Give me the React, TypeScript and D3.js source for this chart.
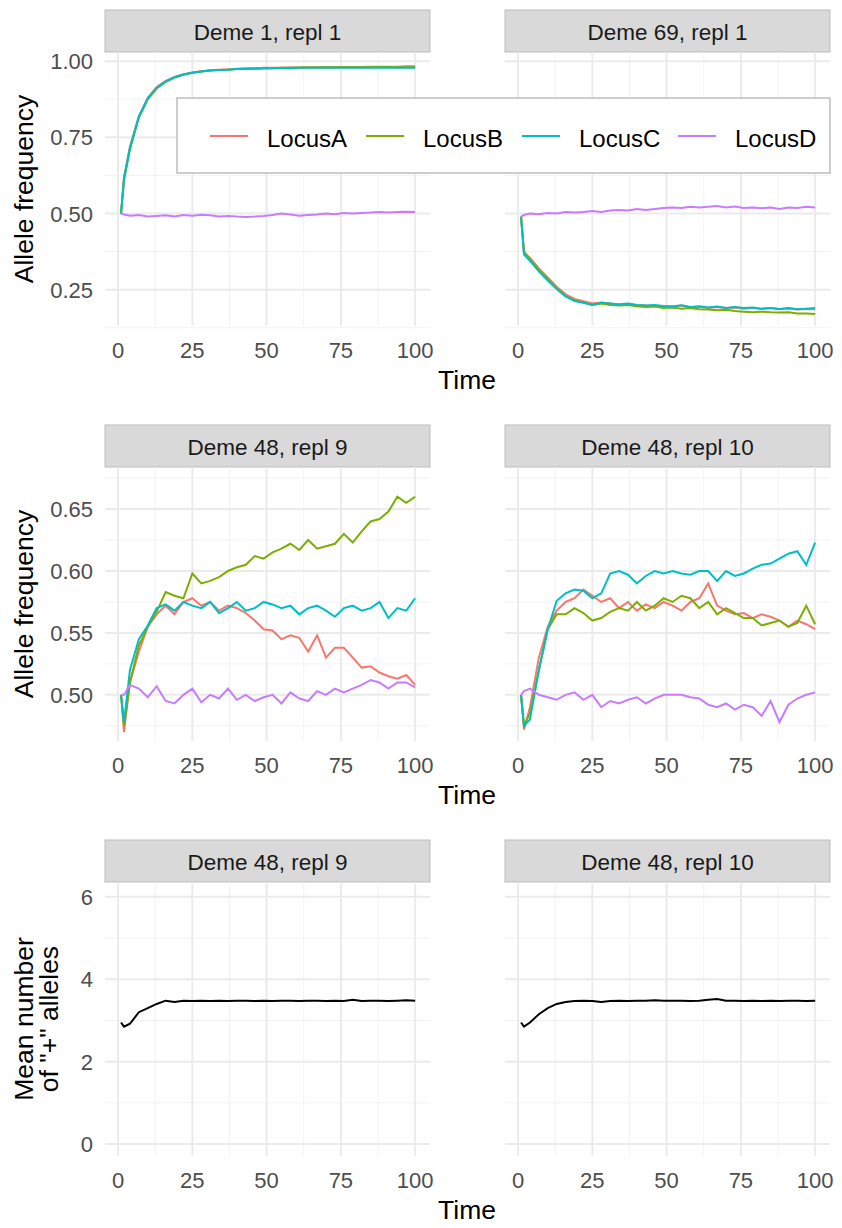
import React from "react";
import * as d3 from "d3";

const times = [1,2,4,7,10,13,16,19,22,25,28,31,34,37,40,43,46,49,52,55,58,61,64,67,70,73,76,79,82,85,88,91,94,97,100];
const loci = ["LocusA","LocusB","LocusC","LocusD"];
const colors = ["#F8766D","#7CAE00","#00BFC4","#C77CFF"];

const d1A = [0.50,0.62,0.72,0.82,0.88,0.915,0.935,0.948,0.957,0.963,0.967,0.970,0.972,0.973,0.975,0.976,0.977,0.978,0.978,0.978,0.979,0.979,0.98,0.98,0.98,0.98,0.981,0.981,0.981,0.982,0.982,0.982,0.982,0.983,0.983];
const d1B = [0.50,0.61,0.71,0.815,0.875,0.91,0.932,0.946,0.955,0.962,0.966,0.969,0.971,0.972,0.974,0.975,0.976,0.977,0.977,0.978,0.978,0.979,0.979,0.979,0.98,0.98,0.98,0.98,0.98,0.98,0.981,0.981,0.98,0.98,0.98];
const d1C = [0.50,0.615,0.715,0.818,0.878,0.912,0.933,0.947,0.956,0.962,0.966,0.969,0.971,0.972,0.974,0.975,0.975,0.976,0.977,0.977,0.977,0.978,0.978,0.978,0.978,0.978,0.978,0.978,0.978,0.978,0.978,0.978,0.978,0.978,0.978];
const d1D = [0.50,0.497,0.493,0.495,0.49,0.492,0.494,0.49,0.495,0.493,0.496,0.494,0.49,0.492,0.49,0.489,0.49,0.492,0.495,0.5,0.497,0.493,0.495,0.497,0.5,0.498,0.502,0.5,0.502,0.503,0.505,0.503,0.505,0.506,0.505];

const d2A = [0.49,0.37,0.355,0.32,0.29,0.26,0.235,0.22,0.212,0.205,0.208,0.205,0.2,0.203,0.2,0.198,0.197,0.196,0.195,0.198,0.192,0.194,0.19,0.193,0.19,0.192,0.188,0.19,0.187,0.19,0.186,0.188,0.185,0.187,0.186];
const d2B = [0.49,0.375,0.35,0.315,0.285,0.255,0.23,0.215,0.208,0.2,0.205,0.2,0.198,0.2,0.196,0.193,0.195,0.19,0.192,0.188,0.19,0.186,0.185,0.183,0.184,0.18,0.178,0.176,0.178,0.176,0.175,0.176,0.172,0.172,0.17];
const d2C = [0.49,0.365,0.345,0.31,0.28,0.252,0.228,0.213,0.207,0.2,0.207,0.205,0.202,0.205,0.2,0.198,0.2,0.197,0.195,0.199,0.193,0.196,0.192,0.195,0.19,0.193,0.19,0.192,0.188,0.19,0.187,0.19,0.186,0.188,0.19];
const d2D = [0.49,0.495,0.5,0.498,0.502,0.5,0.505,0.503,0.505,0.508,0.505,0.51,0.512,0.51,0.515,0.512,0.515,0.518,0.52,0.518,0.522,0.52,0.522,0.525,0.52,0.523,0.518,0.52,0.517,0.52,0.515,0.52,0.518,0.522,0.52];

const r9A = [0.50,0.470,0.51,0.535,0.555,0.565,0.572,0.565,0.575,0.578,0.572,0.575,0.568,0.572,0.570,0.566,0.560,0.553,0.552,0.545,0.548,0.546,0.535,0.548,0.530,0.538,0.538,0.530,0.522,0.523,0.518,0.515,0.513,0.516,0.508];
const r9B = [0.50,0.475,0.51,0.54,0.555,0.567,0.583,0.580,0.578,0.598,0.590,0.592,0.595,0.600,0.603,0.605,0.612,0.610,0.615,0.618,0.622,0.617,0.625,0.618,0.620,0.622,0.630,0.623,0.632,0.640,0.642,0.648,0.660,0.655,0.660];
const r9C = [0.50,0.478,0.52,0.545,0.556,0.570,0.573,0.568,0.575,0.572,0.570,0.575,0.566,0.570,0.575,0.568,0.570,0.575,0.573,0.570,0.572,0.565,0.570,0.572,0.568,0.563,0.570,0.572,0.568,0.570,0.575,0.562,0.570,0.568,0.578];
const r9D = [0.50,0.500,0.508,0.505,0.498,0.507,0.495,0.493,0.500,0.505,0.494,0.500,0.497,0.505,0.496,0.500,0.495,0.498,0.500,0.493,0.502,0.497,0.495,0.503,0.500,0.505,0.502,0.505,0.508,0.512,0.510,0.505,0.510,0.510,0.506];

const r10A = [0.50,0.472,0.49,0.53,0.555,0.568,0.575,0.578,0.585,0.580,0.575,0.578,0.570,0.575,0.568,0.573,0.570,0.575,0.572,0.568,0.575,0.578,0.590,0.572,0.568,0.565,0.566,0.562,0.565,0.563,0.560,0.555,0.560,0.557,0.553];
const r10B = [0.50,0.475,0.485,0.52,0.553,0.565,0.565,0.570,0.566,0.560,0.562,0.567,0.570,0.568,0.575,0.568,0.572,0.578,0.575,0.580,0.578,0.570,0.575,0.565,0.570,0.566,0.562,0.562,0.556,0.558,0.560,0.555,0.558,0.572,0.557];
const r10C = [0.50,0.475,0.48,0.52,0.553,0.576,0.582,0.585,0.584,0.578,0.582,0.598,0.600,0.597,0.590,0.596,0.600,0.598,0.600,0.598,0.597,0.600,0.600,0.592,0.600,0.596,0.598,0.602,0.605,0.606,0.610,0.614,0.616,0.605,0.623];
const r10D = [0.50,0.503,0.505,0.500,0.498,0.496,0.500,0.502,0.496,0.500,0.490,0.495,0.493,0.496,0.498,0.493,0.497,0.500,0.500,0.500,0.498,0.497,0.492,0.490,0.493,0.488,0.492,0.490,0.483,0.495,0.478,0.492,0.497,0.500,0.502];

const m9 = [2.95,2.85,2.92,3.2,3.3,3.4,3.48,3.45,3.48,3.47,3.48,3.47,3.48,3.47,3.48,3.48,3.47,3.48,3.47,3.48,3.48,3.47,3.48,3.48,3.47,3.48,3.47,3.5,3.47,3.48,3.48,3.47,3.48,3.49,3.48];
const m10 = [2.95,2.85,2.95,3.15,3.3,3.4,3.45,3.47,3.48,3.47,3.45,3.47,3.48,3.47,3.48,3.48,3.49,3.48,3.48,3.48,3.47,3.48,3.5,3.52,3.48,3.48,3.47,3.48,3.47,3.48,3.47,3.48,3.48,3.47,3.48];

const xTicks = [0,25,50,75,100];

type Panel = { title: string; x: number; series: number[][]; cols: string[] };
type Row = { top: number; yDomain: [number, number]; yTicks: number[]; yMinor: number[]; fmt: (v: number) => string; title: string[]; panels: Panel[] };

const rows: Row[] = [
  { top: 10, yDomain: [0.131, 1.03], yTicks: [0.25,0.5,0.75,1.0], yMinor: [0.125,0.375,0.625,0.875], fmt: d3.format(".2f"), title: ["Allele frequency"],
    panels: [ { title: "Deme 1, repl 1", x: 105, series: [d1A,d1B,d1C,d1D], cols: colors }, { title: "Deme 69, repl 1", x: 505, series: [d2A,d2B,d2C,d2D], cols: colors } ] },
  { top: 425, yDomain: [0.4627, 0.684], yTicks: [0.5,0.55,0.6,0.65], yMinor: [0.475,0.525,0.575,0.625,0.675], fmt: d3.format(".2f"), title: ["Allele frequency"],
    panels: [ { title: "Deme 48, repl 9", x: 105, series: [r9A,r9B,r9C,r9D], cols: colors }, { title: "Deme 48, repl 10", x: 505, series: [r10A,r10B,r10C,r10D], cols: colors } ] },
  { top: 840, yDomain: [-0.29, 6.36], yTicks: [0,2,4,6], yMinor: [1,3,5], fmt: d3.format("d"), title: ["Mean number", "of \"+\" alleles"],
    panels: [ { title: "Deme 48, repl 9", x: 105, series: [m9], cols: ["#000"] }, { title: "Deme 48, repl 10", x: 505, series: [m10], cols: ["#000"] } ] },
];

const PW = 325, SH = 42, PH = 274;
const font = "Liberation Sans, Arial, sans-serif";

export default function App() {
  return (
    <svg width={842} height={1228} style={{ position: "absolute", left: 0, top: 0, background: "#fff" }} fontFamily={font}>
      {rows.map((row, ri) => {
        const py = row.top + SH;
        const y = d3.scaleLinear().domain(row.yDomain).range([py + PH, py]);
        return (
          <g key={ri}>
            {row.panels.map((p, pi) => {
              const x = d3.scaleLinear().domain([-4.4, 105]).range([p.x, p.x + PW]);
              const line = d3.line<number>().x((_, i) => x(times[i])).y((v) => y(v));
              return (
                <g key={pi}>
                  <rect x={p.x} y={row.top} width={PW} height={SH} fill="#D9D9D9" stroke="#BDBDBD" />
                  <text x={p.x + PW / 2} y={row.top + 30} textAnchor="middle" fontSize={22.5} fill="#1A1A1A">{p.title}</text>
                  {[12.5,37.5,62.5,87.5].map((t) => <line key={"mx"+t} x1={x(t)} x2={x(t)} y1={py} y2={py + PH} stroke="#F2F2F2" strokeWidth={1} />)}
                  {row.yMinor.map((t) => <line key={"my"+t} x1={p.x} x2={p.x + PW} y1={y(t)} y2={y(t)} stroke="#F2F2F2" strokeWidth={1} />)}
                  {xTicks.map((t) => <line key={"gx"+t} x1={x(t)} x2={x(t)} y1={py} y2={py + PH} stroke="#EBEBEB" strokeWidth={2} />)}
                  {row.yTicks.map((t) => <line key={"gy"+t} x1={p.x} x2={p.x + PW} y1={y(t)} y2={y(t)} stroke="#EBEBEB" strokeWidth={2} />)}
                  {p.series.map((s, si) => <path key={si} d={line(s) || ""} fill="none" stroke={p.cols[si]} strokeWidth={2} />)}
                  {xTicks.map((t) => <text key={"tx"+t} x={x(t)} y={py + PH + 32} textAnchor="middle" fontSize={22} fill="#4D4D4D">{t}</text>)}
                  {pi === 0 && row.yTicks.map((t) => <text key={"ty"+t} x={p.x - 12} y={y(t) + 8} textAnchor="end" fontSize={22} fill="#4D4D4D">{row.fmt(t)}</text>)}
                </g>
              );
            })}
            <text x={467} y={py + PH + 63} textAnchor="middle" fontSize={26.5} fill="#000">Time</text>
            {row.title.map((t, i) => (
              <text key={i} transform={`translate(${row.title.length === 1 ? 33 : 33 + i * 25},${py + PH / 2}) rotate(-90)`} textAnchor="middle" fontSize={26.5} fill="#000">{t}</text>
            ))}
          </g>
        );
      })}
      <g>
        <rect x={177} y={98} width={653} height={75} fill="#fff" stroke="#BDBDBD" strokeWidth={1.5} />
        {loci.map((l, i) => {
          const lx = 210 + i * 156;
          return (
            <g key={l}>
              <line x1={lx} x2={lx + 38} y1={136} y2={136} stroke={colors[i]} strokeWidth={2} />
              <text x={lx + 57} y={147} fontSize={24} fill="#000">{l}</text>
            </g>
          );
        })}
      </g>
    </svg>
  );
}
